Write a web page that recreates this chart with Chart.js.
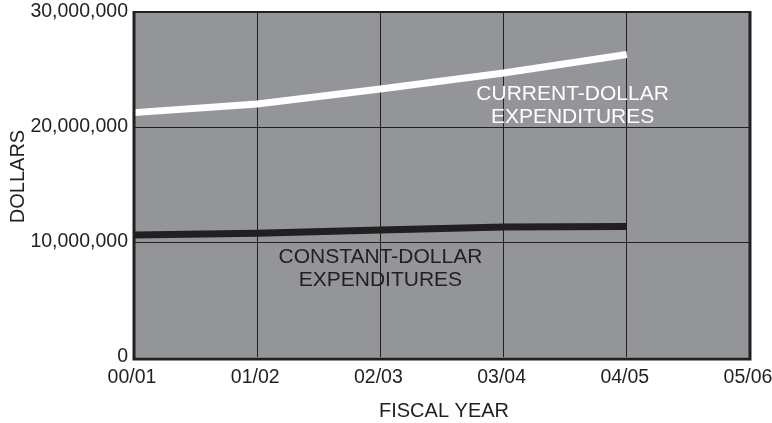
<!DOCTYPE html>
<html>
<head>
<meta charset="utf-8">
<script src="https://cdn.jsdelivr.net/npm/chart.js@4"></script>
<style>
  html, body { margin: 0; padding: 0; background: #fff; }
  #wrap { width: 772px; height: 423px; }
</style>
</head>
<body>
<div id="wrap"><canvas id="chart" width="772" height="423"></canvas></div>
<script>
/* ── Data ───────────────────────────────────────────────────── */

const fiscalYears = ["00/01", "01/02", "02/03", "03/04", "04/05", "05/06"];
const currentDollars  = [21250000, 22000000, 23300000, 24700000, 26300000, null];
const constantDollars = [10600000, 10760000, 11050000, 11300000, 11350000, null];
const yTicks = [0, 10000000, 20000000, 30000000];

// label anchors, in data units (x index, y value)
const notes = [
  { lines: ["CURRENT-DOLLAR", "EXPENDITURES"], x: 3.56, y: 22870000, color: "#ffffff" },
  { lines: ["CONSTANT-DOLLAR", "EXPENDITURES"], x: 2.0, y: 8700000, color: "#231f20" },
];

const FONT = "'Liberation Sans', Arial, sans-serif";
const INK = "#231f20";

/* ── Plugins ────────────────────────────────────────────────── */

const plotDecor = {
  id: "plotDecor",
  beforeDraw(chart) {
    const { ctx, chartArea: a } = chart;
    ctx.save();
    ctx.fillStyle = "#939598";
    ctx.fillRect(a.left, a.top, a.right - a.left, a.bottom - a.top);
    ctx.restore();
  },
  afterDatasetsDraw(chart) {
    const { ctx, chartArea: a, scales } = chart;
    ctx.save();
    // frame: thin top, heavier left/right/bottom
    ctx.strokeStyle = INK;
    ctx.lineWidth = 2;
    ctx.beginPath();
    ctx.moveTo(a.left, a.top);
    ctx.lineTo(a.right, a.top);
    ctx.stroke();
    ctx.lineWidth = 3;
    ctx.beginPath();
    ctx.moveTo(a.right, a.top - 1);
    ctx.lineTo(a.right, a.bottom + 2.5);
    ctx.moveTo(a.left, a.top - 1);
    ctx.lineTo(a.left, a.bottom + 2.5);
    ctx.moveTo(a.left - 1.5, a.bottom + 2);
    ctx.lineTo(a.right + 1.5, a.bottom + 2);
    ctx.stroke();

    // in-plot notes
    ctx.font = "21px " + FONT;
    ctx.textAlign = "center";
    ctx.textBaseline = "middle";
    notes.forEach(n => {
      const px = scales.x.getPixelForValue(n.x);
      const py = scales.y.getPixelForValue(n.y);
      ctx.fillStyle = n.color;
      n.lines.forEach((t, i) => ctx.fillText(t, px, py + i * 23));
    });

    // axis titles
    ctx.fillStyle = INK;
    ctx.font = "20px " + FONT;
    ctx.fillText("FISCAL YEAR", (a.left + a.right) / 2 + 2, 411);
    ctx.translate(18, (a.top + a.bottom) / 2 - 8);
    ctx.rotate(-Math.PI / 2);
    ctx.fillText("DOLLARS", 0, 0);
    ctx.restore();
  },
};

/* ── Chart ──────────────────────────────────────────────────── */

new Chart(document.getElementById("chart"), {
  type: "line",
  data: {
    labels: fiscalYears,
    datasets: [
      {
        label: "Current-dollar expenditures",
        data: currentDollars,
        borderColor: "#ffffff",
        borderWidth: 7,
        borderCapStyle: "butt",
        pointRadius: 0,
        tension: 0,
      },
      {
        label: "Constant-dollar expenditures",
        data: constantDollars,
        borderColor: "#231f20",
        borderWidth: 7,
        borderCapStyle: "butt",
        pointRadius: 0,
        tension: 0,
      },
    ],
  },
  options: {
    responsive: false,
    animation: false,
    layout: { padding: { top: 12, right: 22, left: 0, bottom: 0 } },
    plugins: { legend: { display: false }, tooltip: { enabled: false } },
    scales: {
      x: {
        offset: false,
        grid: { color: INK, lineWidth: 1, drawTicks: false },
        border: { display: false },
        ticks: {
          color: INK, font: { family: FONT, size: 19.5 }, padding: 9,
          maxRotation: 0, autoSkip: false, labelOffset: -2,
        },
        afterFit(s) { s.height = 66; s.paddingLeft = 0; s.paddingRight = 0; },
      },
      y: {
        min: 0,
        max: 30000000,
        afterBuildTicks(s) { s.ticks = yTicks.map(v => ({ value: v })); },
        grid: {
          color: c => (c.tick && c.tick.value === 0 ? "#d0d0d0" : INK),
          lineWidth: 1,
          drawTicks: false,
        },
        border: { display: false },
        ticks: {
          color: INK,
          font: { family: FONT, size: 19.5 },
          padding: 6,
          callback: v => v.toLocaleString("en-US"),
        },
        afterFit(s) { s.width = 134; s.paddingTop = 0; s.paddingBottom = 0; },
      },
    },
  },
  plugins: [plotDecor],
});
</script>
</body>
</html>
